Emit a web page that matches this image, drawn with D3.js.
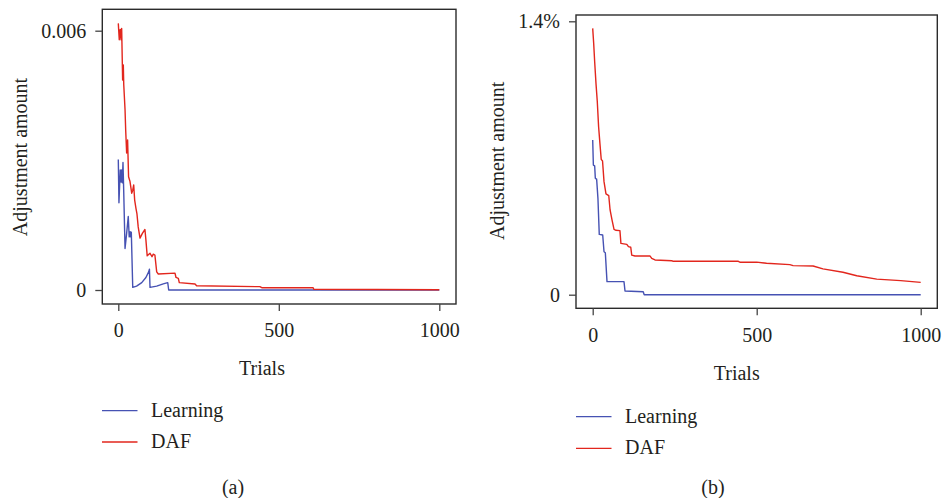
<!DOCTYPE html>
<html lang="en">
<head>
    <meta charset="UTF-8">
    <title>Adjustment amount</title>
    <style>
        body { margin: 0; background: #fff; }
        text { font-family: "Liberation Serif", "DejaVu Serif", serif; fill: #231f20; }
    </style>
</head>
<body>
<svg></svg>
<script src="https://d3js.org/d3.v7.min.js"></script>
<script>
    /* data: [trial, value] */
    const learningA = [
        [0, 0.00302], [2, 0.00202], [6, 0.00278], [8.4, 0.0025], [10.5, 0.00278], [12.5, 0.00248],
        [14.6, 0.00295], [16.8, 0.00231], [21, 0.00096], [26, 0.00131], [31, 0.0017], [34, 0.00123],
        [37, 0.00135], [38.5, 0.00123], [40.5, 0.00134], [45, 0.00006], [57, 0.00009], [73, 0.00017],
        [86, 0.00029], [94.6, 0.00042], [97, 0.00048], [98.8, 0.00006], [119.6, 0.00009], [140, 0.00014],
        [154, 0.00017], [157, 0], [1000, 0]
    ];
    const dafA = [
        [0, 0.00617], [3, 0.00579], [6, 0.00603], [8.5, 0.00579], [10.5, 0.00605], [13.5, 0.00486],
        [15.6, 0.00521], [17, 0.00475], [21, 0.00417], [23, 0.0037], [26, 0.00317], [29, 0.00347],
        [32, 0.00262], [36.5, 0.00251], [41.7, 0.00224], [45, 0.00231], [48, 0.00243], [51, 0.00208],
        [55, 0.00189], [58, 0.00177], [62, 0.00146], [67.6, 0.0012], [75, 0.00131], [83, 0.0014],
        [86, 0.00116], [90, 0.00079], [98.8, 0.00085], [105, 0.00077], [109, 0.00083], [114, 0.00081],
        [119.6, 0.00042], [124.6, 0.00037], [176.6, 0.00039], [179.8, 0.00029], [187, 0.00027],
        [190, 0.00017], [239, 0.00014], [244, 0.0001], [441, 0.000077], [447, 0.000053],
        [607, 0.000053], [609, 0.000016], [1000, 0.000005]
    ];
    const learningB = [
        [0, 0.792], [2, 0.664], [6, 0.66], [8, 0.596], [12, 0.592], [16, 0.493], [20, 0.309],
        [30.5, 0.306], [34.5, 0.22], [38.5, 0.215], [43.6, 0.067], [95.4, 0.067], [98.5, 0.019],
        [154, 0.015], [157, 0], [1000, 0]
    ];
    const dafB = [
        [0, 1.364], [3, 1.287], [6, 1.193], [10, 1.082], [14, 0.988], [18, 0.86], [22, 0.775],
        [26, 0.693], [30, 0.685], [34.5, 0.579], [40.5, 0.516], [49, 0.507], [53, 0.434], [59, 0.382],
        [65, 0.335], [70, 0.33], [83, 0.328], [86, 0.263], [104, 0.258], [109, 0.246], [116, 0.243],
        [119, 0.203], [129, 0.198], [175, 0.198], [180, 0.186], [190, 0.178], [241, 0.174],
        [246, 0.171], [444, 0.171], [450, 0.166], [500, 0.167], [530, 0.161], [601, 0.154],
        [611, 0.149], [672, 0.147], [702, 0.132], [763, 0.115], [805, 0.097], [866, 0.08],
        [939, 0.072], [1000, 0.063]
    ];
    const xTicks = [0, 500, 1000];
    const yTicksA = [0, 0.006];
    const yTicksB = [0, 1.4];
    const seriesNames = ["Learning", "DAF"];

    /* graphics */
    const width = 943;
    const height = 498;
    const blue = "#4652b3";
    const red = "#e2261d";
    const fontSize = 20;

    const svg = d3.select("svg")
        .attr("width", width)
        .attr("height", height);

    const panels = [
        {
            series: [learningA, dafA], yTicks: yTicksA, yFormat: d => d === 0 ? "0" : "0.006",
            box: {l: 102.3, r: 456, t: 9.3, b: 304},
            x0: 118.3, x1: 439.3, y0: 290, y1: 30.7,
            yLabel: [20, 157], xLabel: [262, 368], caption: [233, 487], capText: "(a)",
            legend: {x: 102, y: 410.7, dy: 31.3}, padX: 12
        },
        {
            series: [learningB, dafB], yTicks: yTicksB, yFormat: d => d === 0 ? "0" : d + "%",
            box: {l: 576, r: 937.3, t: 15, b: 308.3},
            x0: 592.7, x1: 920.7, y0: 294.7, y1: 21.3,
            yLabel: [496.7, 160.8], xLabel: [736.7, 372.7], caption: [713, 486.7], capText: "(b)",
            legend: {x: 576, y: 416.7, dy: 31.6}, padX: 13
        }
    ];

    panels.forEach((p) => {
        const g = svg.append("g");
        const x = d3.scaleLinear().domain([0, 1000]).range([p.x0, p.x1]);
        const y = d3.scaleLinear().domain([0, p.yTicks[1]]).range([p.y0, p.y1]);

        /* lines */
        const line = d3.line().x(d => x(d[0])).y(d => y(d[1]));
        p.series.forEach((s, i) => {
            g.append("path")
                .datum(s)
                .attr("d", line)
                .attr("fill", "none")
                .attr("stroke", i === 0 ? blue : red)
                .attr("stroke-width", 1.4)
                .attr("stroke-linejoin", "round");
        });

        /* frame */
        g.append("rect")
            .attr("x", p.box.l)
            .attr("y", p.box.t)
            .attr("width", p.box.r - p.box.l)
            .attr("height", p.box.b - p.box.t)
            .attr("fill", "none")
            .attr("stroke", "#2b2b2b")
            .attr("stroke-width", 1.4);

        /* axes */
        const yAxis = g.append("g")
            .attr("transform", `translate(${p.box.l},0)`)
            .call(d3.axisLeft(y).tickValues(p.yTicks).tickFormat(p.yFormat).tickSize(7).tickPadding(9));
        const xAxis = g.append("g")
            .attr("transform", `translate(0,${p.box.b})`)
            .call(d3.axisBottom(x).tickValues(xTicks).tickFormat(d3.format("d")).tickSize(7).tickPadding(p.padX));
        [yAxis, xAxis].forEach(a => {
            a.select(".domain").remove();
            a.selectAll("line").attr("stroke", "#444").attr("stroke-width", 1.3);
            a.selectAll("text")
                .attr("font-family", "Liberation Serif, DejaVu Serif, serif")
                .attr("font-size", fontSize)
                .attr("fill", "#231f20");
        });

        /* titles */
        g.append("text")
            .attr("transform", `translate(${p.yLabel[0]},${p.yLabel[1]}) rotate(-90)`)
            .attr("text-anchor", "middle")
            .attr("dy", "0.35em")
            .attr("font-size", fontSize)
            .text("Adjustment amount");
        g.append("text")
            .attr("x", p.xLabel[0])
            .attr("y", p.xLabel[1])
            .attr("text-anchor", "middle")
            .attr("dy", "0.35em")
            .attr("font-size", fontSize)
            .text("Trials");
        g.append("text")
            .attr("x", p.caption[0])
            .attr("y", p.caption[1])
            .attr("text-anchor", "middle")
            .attr("dy", "0.35em")
            .attr("font-size", fontSize)
            .text(p.capText);

        /* legend */
        seriesNames.forEach((name, i) => {
            const ly = p.legend.y + i * p.legend.dy;
            g.append("line")
                .attr("x1", p.legend.x)
                .attr("x2", p.legend.x + 35.5)
                .attr("y1", ly)
                .attr("y2", ly)
                .attr("stroke", i === 0 ? blue : red)
                .attr("stroke-width", 1.3);
            g.append("text")
                .attr("x", p.legend.x + 49)
                .attr("y", ly)
                .attr("dy", "0.3em")
                .attr("font-size", fontSize)
                .text(name);
        });
    });
</script>
</body>
</html>
